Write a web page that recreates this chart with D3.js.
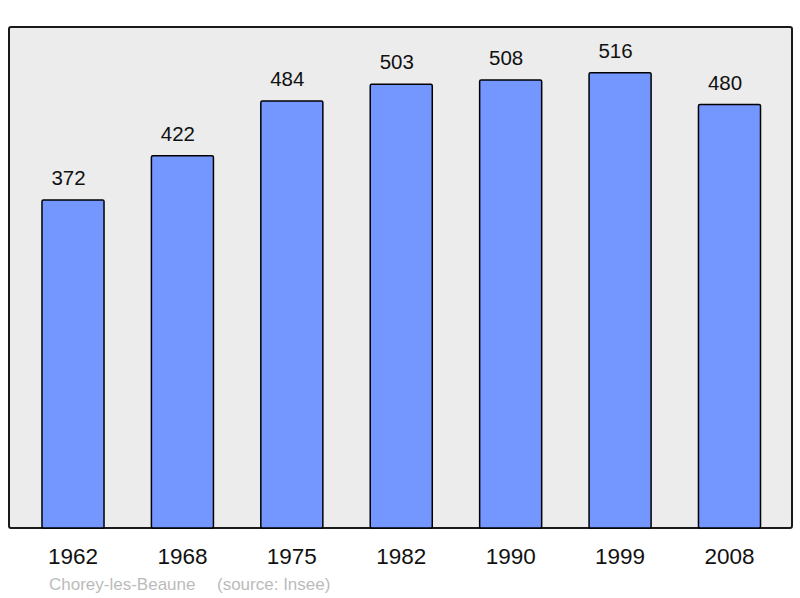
<!DOCTYPE html>
<html>
<head>
<meta charset="utf-8">
<script src="https://cdn.jsdelivr.net/npm/d3@7"></script>
<style>
html, body { margin: 0; padding: 0; background: #fff; }
svg { display: block; }
</style>
</head>
<body>
<svg id="chart" width="800" height="598"></svg>
<script>
const years = ["1962", "1968", "1975", "1982", "1990", "1999", "2008"];
const population = [372, 422, 484, 503, 508, 516, 480];
const commune = "Chorey-les-Beaune";
const source = "(source: Insee)";

const svg = d3.select("#chart");
const font = "'Liberation Sans', Arial, sans-serif";

const panel = { x: 9, y: 27, w: 783, h: 501 };

svg.append("rect")
  .attr("x", panel.x).attr("y", panel.y)
  .attr("width", panel.w).attr("height", panel.h)
  .attr("rx", 2).attr("ry", 2)
  .attr("fill", "#ececec")
  .attr("stroke", "#1a1a1a")
  .attr("stroke-width", 2);

const x = d3.scaleBand()
  .domain(years)
  .range([18.3, 784.2])
  .paddingInner(0.433)
  .paddingOuter(0.2165);

const y = d3.scaleLinear()
  .domain([0, 568])
  .range([panel.y + panel.h, panel.y]);

const data = years.map((yr, i) => ({ year: yr, value: population[i] }));

svg.append("g").selectAll("rect")
  .data(data)
  .join("rect")
  .attr("x", d => x(d.year))
  .attr("y", d => y(d.value))
  .attr("width", x.bandwidth())
  .attr("height", d => y(0) - y(d.value))
  .attr("rx", 1.5).attr("ry", 1.5)
  .attr("fill", "#7396ff")
  .attr("stroke", "#000")
  .attr("stroke-width", 1.5);

svg.append("g").selectAll("text")
  .data(data)
  .join("text")
  .attr("x", d => x(d.year) + x.bandwidth() / 2 - 4.5)
  .attr("y", d => y(d.value) - 15)
  .attr("text-anchor", "middle")
  .attr("font-family", font)
  .attr("font-size", 20.5)
  .attr("fill", "#111")
  .text(d => d.value);

const xAxis = d3.axisBottom(x).tickSize(0).tickPadding(0);
const gx = svg.append("g")
  .attr("transform", `translate(0, ${panel.y + panel.h})`)
  .call(xAxis);
gx.select(".domain").remove();
gx.selectAll("text")
  .attr("dy", null)
  .attr("y", 36)
  .attr("font-family", font)
  .attr("font-size", 22.5)
  .attr("fill", "#111");

svg.append("text")
  .attr("x", 49).attr("y", 590)
  .attr("font-family", font)
  .attr("font-size", 17)
  .attr("fill", "#bbbbbb")
  .text(commune);

svg.append("text")
  .attr("x", 217).attr("y", 590)
  .attr("font-family", font)
  .attr("font-size", 17)
  .attr("fill", "#bbbbbb")
  .text(source);
</script>
</body>
</html>
